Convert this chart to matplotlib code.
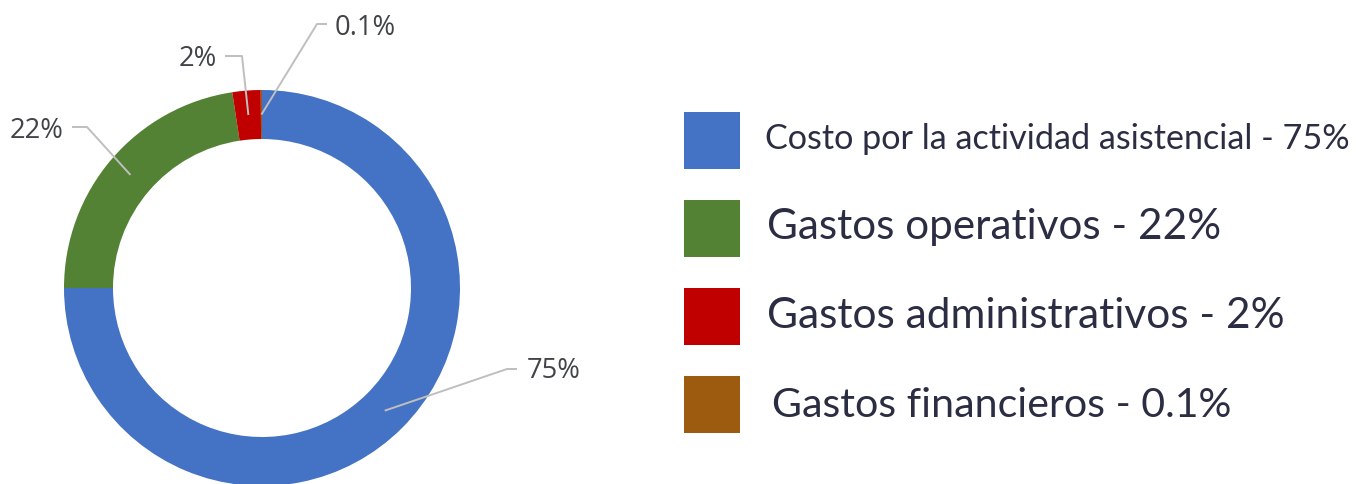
import matplotlib
matplotlib.use('Agg')
import matplotlib.pyplot as plt
from matplotlib.patches import Rectangle
import numpy as np

# ---- data ----
categories = ['Costo por la actividad asistencial', 'Gastos operativos',
              'Gastos administrativos', 'Gastos financieros']
values = [75.0, 22.6, 2.3, 0.1]          # share
pct_labels = ['75%', '22%', '2%', '0.1%']
colors = ['#4472C4', '#548235', '#C00000', '#9C5B0F']

W, H = 1370, 485
fig = plt.figure(figsize=(W / 100, H / 100), dpi=100)
ax = fig.add_axes([0, 0, 1, 1])


def Y(y):
    return H - y


R_OUT, RING = 198, 49
CX, CY = 262, Y(289)
wedges, _ = ax.pie(values, colors=colors, startangle=90, counterclock=False,
                   radius=R_OUT, center=(CX, CY),
                   wedgeprops=dict(width=RING, edgecolor='none', linewidth=0))
ax.set_xlim(0, W)
ax.set_ylim(0, H)
ax.set_aspect('auto')
ax.axis('off')

# ---- data labels with leader lines ----
label_layout = [
    # elbow, end, text pos, ha
    ((507, 370), (517, 370), (527, 371), 'left'),
    ((87, 128), (72, 128), (64, 131), 'right'),
    ((242, 57), (225, 57), (217, 59), 'right'),
    ((317, 25), (327, 25), (335, 28), 'left'),
]
r_mid = R_OUT - RING / 2
label_texts = []
for w, lab, (elb, end, tp, ha) in zip(wedges, pct_labels, label_layout):
    mid = np.deg2rad((w.theta1 + w.theta2) / 2)
    ax0 = CX + r_mid * np.cos(mid)
    ay0 = CY + r_mid * np.sin(mid)
    ax.plot([ax0, elb[0], end[0]], [ay0, Y(elb[1]), Y(end[1])],
            color='#BFBFBF', lw=1.4, solid_capstyle='butt', zorder=3)
    t = ax.text(tp[0], Y(tp[1]), lab, ha=ha, va='center', color='#404448',
                fontsize=16, family='Open Sans', zorder=4)
    label_texts.append(t)

# ---- legend ----
sq_tops = [113, 201, 289, 377]
text_y = [139, 227, 316, 406]
text_x = [765, 767, 767, 772]
text_w = [585, 455, 520, 460]
leg_texts = []
for cat, lab, col, top, ty, tx in zip(categories, pct_labels, colors, sq_tops, text_y, text_x):
    ax.add_patch(Rectangle((684, Y(top + 57)), 56, 57, facecolor=col, edgecolor='none'))
    t = ax.text(tx, Y(ty), f'{cat} - {lab}', ha='left', va='center',
                color='#2B2D42', fontsize=24, family='Lato')
    leg_texts.append(t)

fig.canvas.draw()
renderer = fig.canvas.get_renderer()
# fit label size so "75%" spans ~54 px
bb = label_texts[0].get_window_extent(renderer)
s = 16 * 54 / bb.width
for t in label_texts:
    t.set_fontsize(s)
for t, tw in zip(leg_texts, text_w):
    bb = t.get_window_extent(renderer)
    t.set_fontsize(t.get_fontsize() * tw / bb.width)

fig.savefig('out.png', dpi=100, facecolor='white')
